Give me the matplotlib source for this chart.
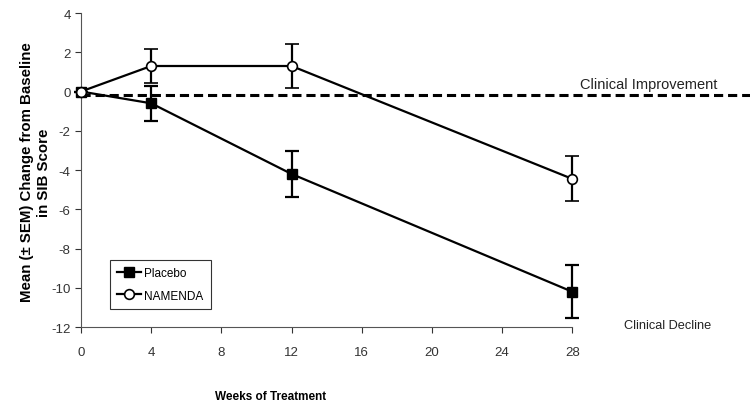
import matplotlib.pyplot as plt
from matplotlib.lines import Line2D

weeks = [0, 4, 12, 28]
placebo = [0.0, -0.6, -4.2, -10.2]
placebo_sem = [0.0, 0.9, 1.15, 1.35]
namenda = [0.0, 1.3, 1.3, -4.45]
namenda_sem = [0.0, 0.85, 1.1, 1.15]
baseline = -0.2

xticks = [0, 4, 8, 12, 16, 20, 24, 28]
yticks = [4, 2, 0, -2, -4, -6, -8, -10, -12]

plt.rcParams['font.family'] = ['Liberation Sans', 'DejaVu Sans']
plt.rcParams['axes.unicode_minus'] = False

fig = plt.figure(figsize=(7.5, 4.06), dpi=100)
ax = fig.add_axes([0.108, 0.192, 0.655, 0.7735])

# dashed reference line, runs past the axes to the right edge
ax.axhline(baseline, xmin=0, xmax=1.362, color='black', linestyle=(0, (3, 1.6)),
           linewidth=2.2, clip_on=False, zorder=1)

ax.errorbar(weeks, placebo, yerr=placebo_sem, color='black', marker='s', markersize=7,
            markerfacecolor='black', linewidth=1.6, elinewidth=1.6, capsize=5,
            capthick=1.6, zorder=3)
ax.errorbar(weeks, namenda, yerr=namenda_sem, color='black', marker='o', markersize=7,
            markerfacecolor='white', markeredgewidth=1.2, linewidth=1.6, elinewidth=1.6,
            capsize=5, capthick=1.6, zorder=3)
# let markers at the edges show fully
for ln in ax.lines:
    ln.set_clip_on(False)
for c in ax.collections:
    c.set_clip_on(False)

ax.set_xlim(0, 28)
ax.set_ylim(-12, 4)
ax.set_xticks(xticks)
ax.set_yticks(yticks)
ax.tick_params(axis='both', labelsize=9.5, colors='#333333', length=4, width=0.8)
ax.tick_params(axis='x', pad=10)
ax.spines['top'].set_visible(False)
ax.spines['right'].set_visible(False)
for s in ['left', 'bottom']:
    ax.spines[s].set_color('#555555')
    ax.spines[s].set_linewidth(0.8)

handles = [Line2D([], [], color='black', marker='s', markersize=7, linewidth=1.6),
           Line2D([], [], color='black', marker='o', markersize=7, markerfacecolor='white',
                  markeredgewidth=1.2, linewidth=1.6)]
leg = ax.legend(handles, ['Placebo', 'NAMENDA'], loc='lower left',
                bbox_to_anchor=(0.047, 0.04), fontsize=8.5, frameon=True, fancybox=False,
                edgecolor='black', handlelength=2.0, handletextpad=0.3,
                borderpad=0.6, labelspacing=0.9)
leg.get_frame().set_linewidth(0.8)

fig.text(0.773, 0.79, 'Clinical Improvement', fontsize=10.5, color='#222222', va='center')
fig.text(0.832, 0.198, 'Clinical Decline', fontsize=9.2, color='#222222', va='center')

fig.text(0.047, 0.575, 'Mean (± SEM) Change from Baseline\nin SIB Score', rotation=90,
         fontsize=10.8, fontweight='bold', ha='center', va='center', linespacing=1.25)
fig.text(0.361, 0.022, 'Weeks of Treatment', fontsize=8.5, fontweight='bold',
         ha='center', va='center')

fig.savefig('out.png', dpi=100)
